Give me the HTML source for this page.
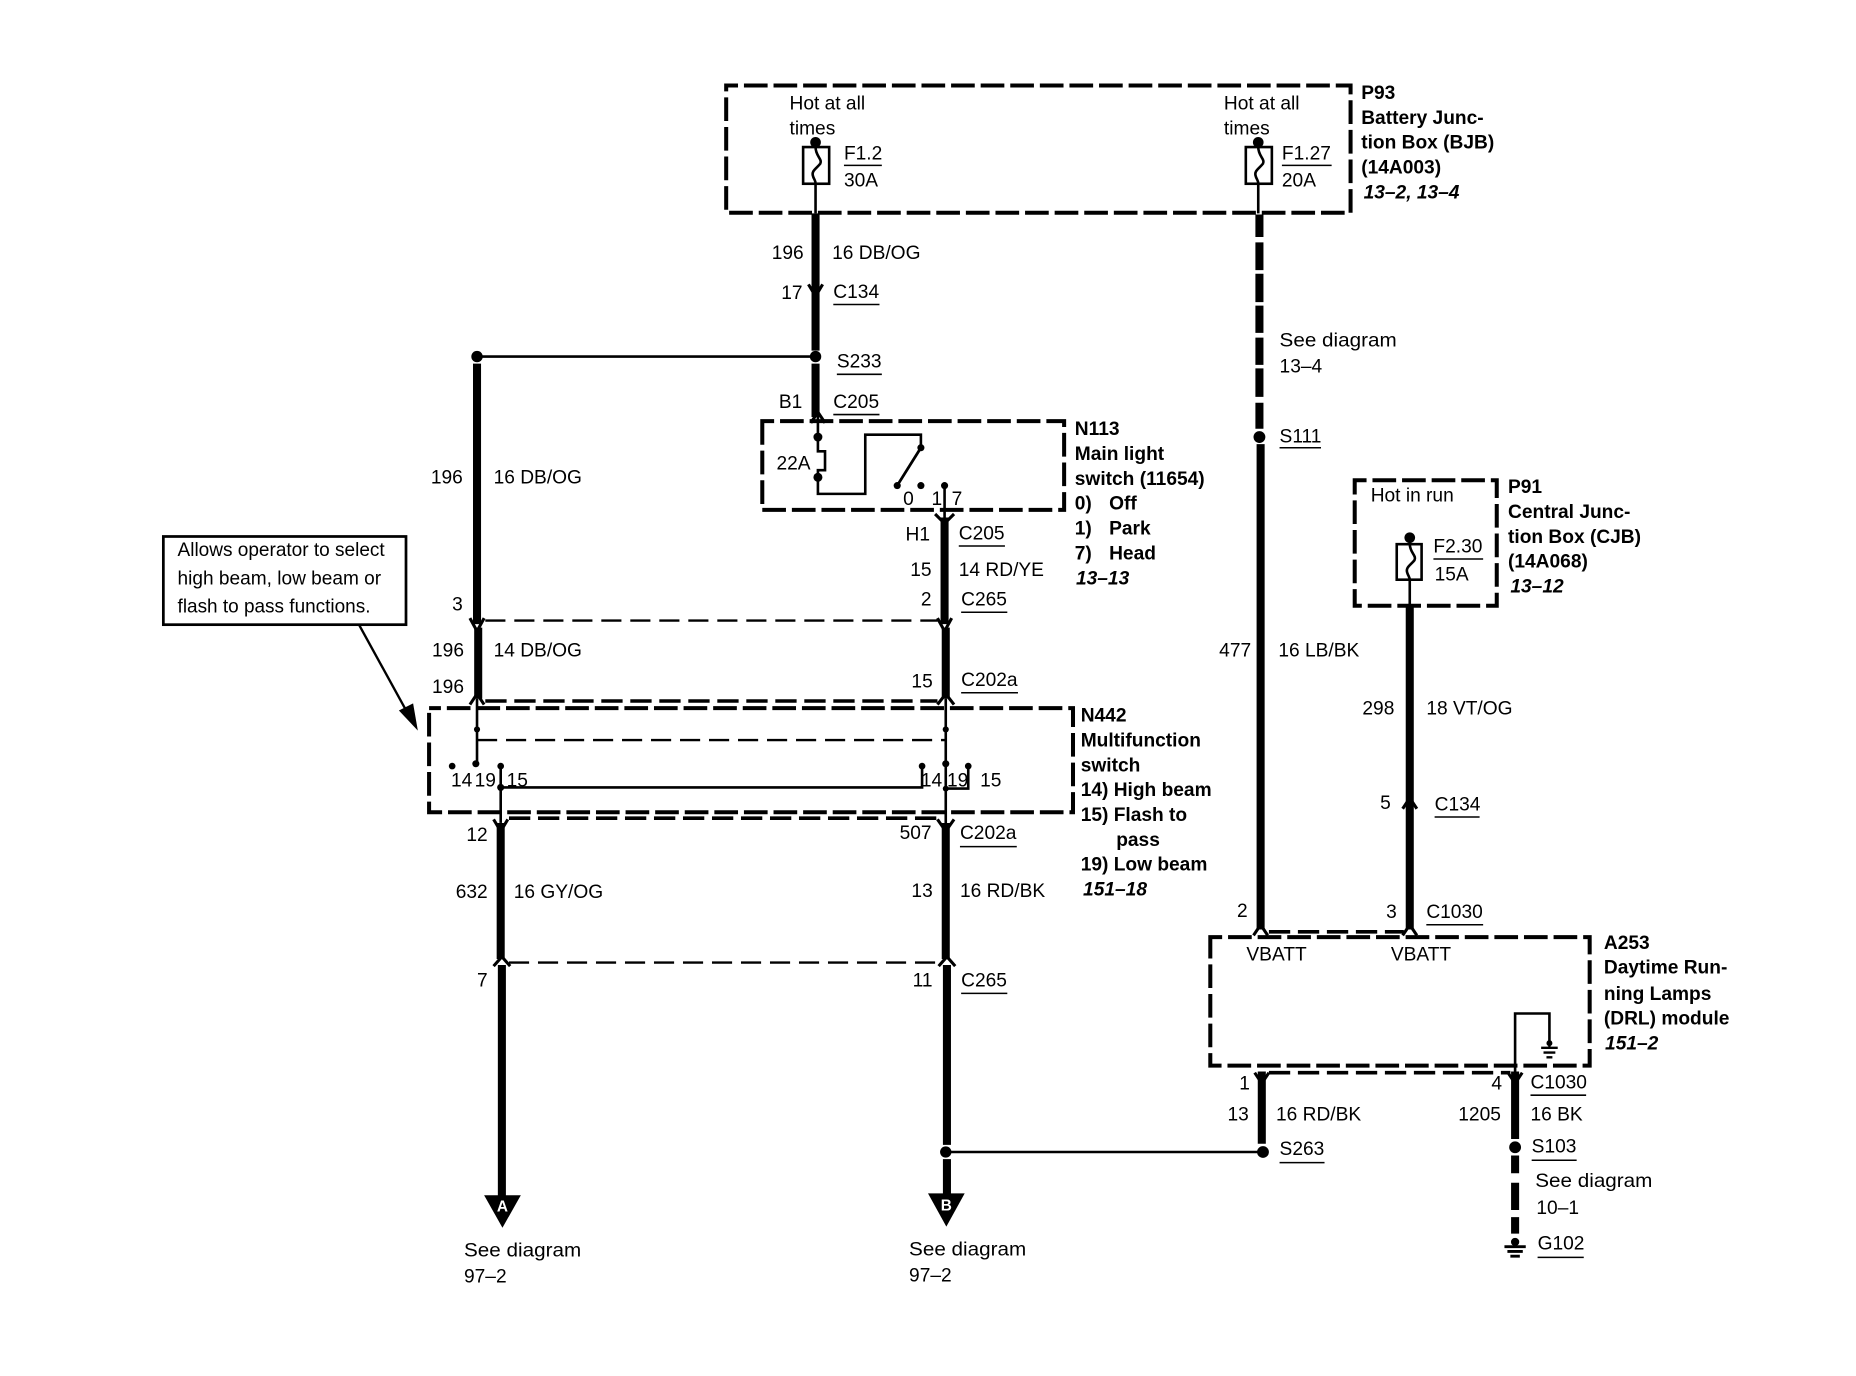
<!DOCTYPE html>
<html lang="en">
<head>
<meta charset="utf-8">
<title>Daytime Running Lamps wiring diagram</title>
<style>
html,body{margin:0;padding:0;background:#fff}
svg{display:block}
text{font-family:"Liberation Sans",sans-serif;font-size:16.2px;fill:#000;transform:translate(0,-.6px)}
.b{font-weight:bold}
.i{font-weight:bold;font-style:italic}
.box{fill:none;stroke:#000;stroke-width:3.4;stroke-dasharray:20 5;stroke-dashoffset:10}
.th{fill:none;stroke:#000;stroke-width:6.8}
.tn{fill:none;stroke:#000;stroke-width:2.2}
.ul{fill:none;stroke:#000;stroke-width:1.3}
.da{fill:none;stroke:#000;stroke-width:2;stroke-dasharray:17 7.500}
.db{fill:none;stroke:#000;stroke-width:3;stroke-dasharray:18 6.500}
.fk{fill:none;stroke:#000;stroke-width:2.6}
.fz{fill:#fff;stroke:#000;stroke-width:2.2}
</style>
</head>
<body>
<svg xmlns="http://www.w3.org/2000/svg" width="1856" height="1376" viewBox="0 0 1568 1162">
<rect width="1568" height="1162" fill="#fff"/>

<!-- dashed module boxes -->
<rect class="box" x="613.5" y="72" width="527.5" height="107.5"/>
<rect class="box" x="644" y="355.5" width="255" height="75"/>
<rect class="box" x="1144.5" y="405.5" width="120" height="106"/>
<rect class="box" x="362.5" y="598" width="544" height="88"/>
<rect class="box" x="1022.5" y="791.5" width="320.5" height="108.5"/>

<!-- connector dashed bars -->
<path class="da" d="M410 524H792"/>
<path class="db" d="M410 592H792"/>
<path class="db" d="M430 691H792"/>
<path class="da" d="M430 813H792"/>
<path class="da" d="M403 625H798"/>
<path class="db" stroke-width="2.4" d="M1072 787H1186"/>
<path class="db" d="M1072 906H1276"/>

<!-- thick wires -->
<path class="th" d="M689 180V296M689 307V352"/>
<path class="th" d="M1064 181V200M1064 204.500V228M1064 231V255M1064 258V281M1064 285V308M1064 311V335M1064 340V362"/>
<path class="th" d="M1065 375V785"/>
<path class="th" d="M403 307V527M404 530V590"/>
<path class="th" d="M798 437V527M799 530V590"/>
<path class="th" d="M423 695V810M424 815V1012"/>
<path class="th" d="M799 695V810M800 815V967M800 979V1012"/>
<path class="th" d="M1191 512V785"/>
<path class="th" d="M1066 905V966"/>
<path class="th" d="M1280 905V962"/>
<path class="th" d="M1280 976V991M1280 999V1022M1280 1028V1042"/>

<!-- thin wires -->
<path class="tn" d="M403 301H689"/>
<path class="tn" d="M799 973H1067"/>
<path class="tn" d="M689 120V180"/>
<path class="tn" d="M1063 120V180"/>
<path class="tn" d="M1191 454V512"/>
<path class="tn" d="M691 352V381H697V397H691V417H731V367H778V378L758 410"/>
<path class="tn" stroke-width="2.8" d="M778 378L758 410"/>
<path class="tn" d="M798 410V437"/>
<path class="tn" d="M403 590V645"/>
<path class="tn" d="M799 590V695"/>
<path class="tn" d="M423 647V695"/>
<path class="tn" stroke-width="2.6" d="M423 665H779V647"/>
<path class="tn" d="M799 666H818V647"/>
<path class="tn" d="M1280 905V856H1309V882"/>

<!-- fuses -->
<rect class="fz" x="678.5" y="124" width="22" height="31"/>
<path class="tn" d="M689 124C689 132 695 134 693 138C690 142 685 144 687 149C688 152 689 152 689 155"/>
<rect class="fz" x="1052.5" y="124" width="22" height="31"/>
<path class="tn" d="M1063 124C1063 132 1069 134 1067 138C1064 142 1059 144 1061 149C1062 152 1063 152 1063 155"/>
<rect class="fz" x="1180" y="459.500" width="21" height="30"/>
<path class="tn" d="M1191 459C1191 467 1197 469 1195 473C1192 477 1187 479 1189 484C1190 487 1191 487 1191 490"/>

<!-- dots -->
<g fill="#000">
<circle cx="689" cy="120" r="4.5"/><circle cx="1063" cy="120" r="4.500"/><circle cx="1191" cy="454" r="4.5"/>
<circle cx="689" cy="301" r="4.800"/><circle cx="403" cy="301" r="4.8"/>
<circle cx="691" cy="369" r="3.8"/><circle cx="691" cy="403" r="3.800"/>
<circle cx="778" cy="378" r="3"/><circle cx="758" cy="410" r="3"/><circle cx="778" cy="410" r="3"/><circle cx="798" cy="410" r="3"/>
<circle cx="1064" cy="369" r="5"/>
<circle cx="403" cy="616" r="2.6"/><circle cx="402" cy="645" r="3"/><circle cx="382" cy="647" r="2.8"/><circle cx="423" cy="647" r="2.8"/><circle cx="423" cy="665" r="3"/>
<circle cx="799" cy="616" r="2.600"/><circle cx="799" cy="645" r="3"/><circle cx="779" cy="647" r="2.8"/><circle cx="818" cy="647" r="2.8"/><circle cx="799" cy="666" r="2.5"/>
<circle cx="799" cy="973" r="4.800"/><circle cx="1067" cy="973" r="5"/><circle cx="1280" cy="969" r="5"/>
</g>

<!-- connector forks -->
<path class="fk" d="M683 240L689 250L695 240"/>
<path class="fk" d="M685 357L691 348L697 357"/>
<path class="fk" d="M790 434L798 442L806 434"/>
<path class="fk" d="M397 522L403 533L409 522"/>
<path class="fk" d="M792 522L798 533L804 522"/>
<path class="fk" d="M397 595L403 586L409 595"/>
<path class="fk" d="M792 595L799 586L806 595"/>
<path class="fk" d="M417 692L423 702L429 692"/>
<path class="fk" d="M792 692L799 702L806 692"/>
<path class="fk" d="M417 816L424 808L431 816"/>
<path class="fk" d="M793 816L800 808L807 816"/>
<path class="fk" d="M1185 683L1191 674L1197 683"/>
<path class="fk" d="M1059 790L1065 781L1071 790"/>
<path class="fk" d="M1185 790L1191 781L1197 790"/>
<path class="fk" d="M1060 906L1066 915L1072 906"/>
<path class="fk" d="M1274 906L1280 915L1286 906"/>

<!-- grounds -->
<path d="M1309 880V884M1302 885H1316M1304 889H1314M1306.500 893H1311.500" stroke="#000" stroke-width="2" fill="none"/>
<circle cx="1309" cy="881" r="2.5" fill="#000"/>
<path d="M1280 1046V1052M1271 1053H1289M1273.500 1057H1286.500M1276 1061H1284" stroke="#000" stroke-width="2.4" fill="none"/>
<circle cx="1280" cy="1049" r="3.5" fill="#000"/>

<!-- off-sheet arrows -->
<polygon points="409,1009.500 440,1009.500 424.500,1037" fill="#000"/>
<polygon points="784,1008 815,1008 799.500,1036" fill="#000"/>
<text x="424.500" y="1024" text-anchor="middle" class="b" style="fill:#fff;font-size:13px">A</text>
<text x="799.500" y="1023" text-anchor="middle" class="b" style="fill:#fff;font-size:13px">B</text>

<!-- callout -->
<rect x="138" y="453" width="205" height="74.500" fill="#fff" stroke="#000" stroke-width="2.3"/>
<path d="M303 527L347 607" stroke="#000" stroke-width="2" fill="none"/>
<polygon points="353,617 337,600 349,594" fill="#000"/>
<text x="150" y="470" textLength="175" lengthAdjust="spacingAndGlyphs">Allows operator to select</text>
<text x="150" y="494" textLength="172" lengthAdjust="spacingAndGlyphs">high beam, low beam or</text>
<text x="150" y="518" textLength="163" lengthAdjust="spacingAndGlyphs">flash to pass functions.</text>

<!-- underlines -->
<path class="ul" d="M713 139.500H745M1083 139.500H1125M704 257H743M707 316H745M704 350H743M810 461H849M812 517H851M812 585H860M1081 378H1116M1211 472H1253M1212 690H1250M811 715H859M812 839H851M1205 781H1253M1293 925H1340M1081 982H1119M1294 980H1332M1299 1062H1338"/>

<!-- P93 -->
<text x="667" y="93">Hot at all</text><text x="667" y="114">times</text>
<text x="1034" y="93">Hot at all</text><text x="1034" y="114">times</text>
<text x="713" y="135">F1.2</text><text x="713" y="158">30A</text>
<text x="1083" y="135">F1.27</text><text x="1083" y="158">20A</text>
<text class="b" x="1150" y="84">P93</text>
<text class="b" x="1150" y="105">Battery Junc-</text>
<text class="b" x="1150" y="126">tion Box (BJB)</text>
<text class="b" x="1150" y="147">(14A003)</text>
<text class="i" x="1152" y="168">13–2, 13–4</text>

<!-- top-left wire -->
<text x="652" y="219">196</text><text x="703" y="219">16 DB/OG</text>
<text x="660" y="253">17</text><text x="704" y="252">C134</text>
<text x="707" y="311">S233</text>
<text x="658" y="345">B1</text><text x="704" y="345">C205</text>

<!-- N113 -->
<text class="b" x="908" y="368">N113</text>
<text class="b" x="908" y="389">Main light</text>
<text class="b" x="908" y="410">switch (11654)</text>
<text class="b" x="908" y="431">0)</text><text class="b" x="937" y="431">Off</text>
<text class="b" x="908" y="452">1)</text><text class="b" x="937" y="452">Park</text>
<text class="b" x="908" y="473">7)</text><text class="b" x="937" y="473">Head</text>
<text class="i" x="909" y="494">13–13</text>
<text x="656" y="397">22A</text>
<text x="763" y="427">0</text><text x="787" y="427">1</text><text x="804" y="427">7</text>

<!-- centre-left labels -->
<text x="765" y="457">H1</text><text x="810" y="456">C205</text>
<text x="769" y="487">15</text><text x="810" y="487">14 RD/YE</text>
<text x="778" y="512">2</text><text x="812" y="512">C265</text>
<text x="364" y="409">196</text><text x="417" y="409">16 DB/OG</text>
<text x="382" y="516">3</text>
<text x="365" y="555">196</text><text x="417" y="555">14 DB/OG</text>
<text x="365" y="586">196</text>
<text x="770" y="581">15</text><text x="812" y="580">C202a</text>

<!-- right-hand wire -->
<text x="1081" y="293" textLength="99" lengthAdjust="spacingAndGlyphs">See diagram</text>
<text x="1081" y="315">13–4</text>
<text x="1081" y="374">S111</text>
<text x="1030" y="555">477</text><text x="1080" y="555">16 LB/BK</text>
<text x="1151" y="604">298</text><text x="1205" y="604">18 VT/OG</text>
<text x="1166" y="684">5</text><text x="1212" y="685">C134</text>

<!-- P91 -->
<text x="1158" y="424">Hot in run</text>
<text x="1211" y="467">F2.30</text><text x="1212" y="491">15A</text>
<text class="b" x="1274" y="417">P91</text>
<text class="b" x="1274" y="438">Central Junc-</text>
<text class="b" x="1274" y="459">tion Box (CJB)</text>
<text class="b" x="1274" y="480">(14A068)</text>
<text class="i" x="1276" y="501">13–12</text>

<!-- N442 -->
<text class="b" x="913" y="610">N442</text>
<text class="b" x="913" y="631">Multifunction</text>
<text class="b" x="913" y="652">switch</text>
<text class="b" x="913" y="673">14) High beam</text>
<text class="b" x="913" y="694">15) Flash to</text>
<text class="b" x="943" y="715">pass</text>
<text class="b" x="913" y="736">19) Low beam</text>
<text class="i" x="915" y="757">151–18</text>
<text x="381" y="665">14</text><text x="401" y="665">19</text><text x="428" y="665">15</text>
<text x="778" y="665">14</text><text x="800" y="665">19</text><text x="828" y="665">15</text>

<!-- lower labels -->
<text x="394" y="711">12</text>
<text x="760" y="709">507</text><text x="811" y="709">C202a</text>
<text x="385" y="759">632</text><text x="434" y="759">16 GY/OG</text>
<text x="770" y="758">13</text><text x="811" y="758">16 RD/BK</text>
<text x="403" y="834">7</text><text x="771" y="834">11</text><text x="812" y="834">C265</text>

<!-- A253 -->
<text x="1045" y="775">2</text><text x="1171" y="776">3</text><text x="1205" y="776">C1030</text>
<text x="1053" y="812">VBATT</text><text x="1175" y="812">VBATT</text>
<text class="b" x="1355" y="802">A253</text>
<text class="b" x="1355" y="823">Daytime Run-</text>
<text class="b" x="1355" y="845">ning Lamps</text>
<text class="b" x="1355" y="866">(DRL) module</text>
<text class="i" x="1356" y="887">151–2</text>
<text x="1047" y="921">1</text><text x="1260" y="921">4</text><text x="1293" y="920">C1030</text>
<text x="1037" y="947">13</text><text x="1078" y="947">16 RD/BK</text>
<text x="1232" y="947">1205</text><text x="1293" y="947">16 BK</text>
<text x="1081" y="976">S263</text><text x="1294" y="974">S103</text>
<text x="1297" y="1003" textLength="99" lengthAdjust="spacingAndGlyphs">See diagram</text>
<text x="1298" y="1026">10–1</text>
<text x="1299" y="1056">G102</text>

<!-- bottom refs -->
<text x="392" y="1062" textLength="99" lengthAdjust="spacingAndGlyphs">See diagram</text>
<text x="392" y="1084">97–2</text>
<text x="768" y="1061" textLength="99" lengthAdjust="spacingAndGlyphs">See diagram</text>
<text x="768" y="1083">97–2</text>
</svg>
</body>
</html>
